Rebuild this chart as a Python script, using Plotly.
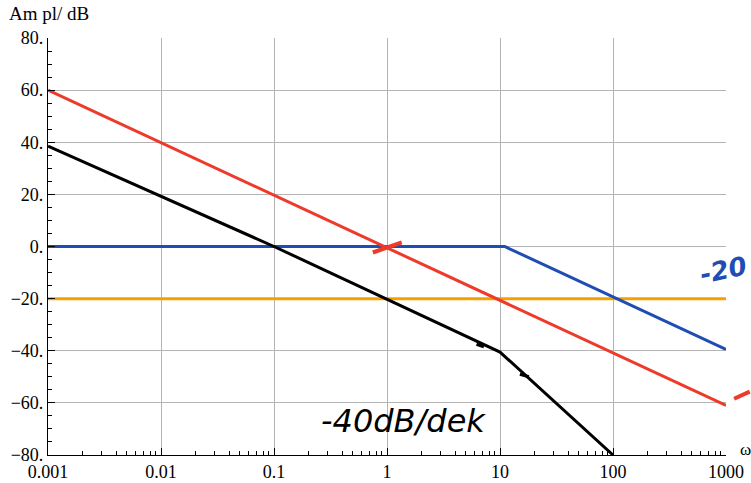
import plotly.graph_objects as go

# Data
red_x = [0.001, 1000]
red_y = [60, -61]
blue_x = [0.001, 11, 1000]
blue_y = [0, 0, -39.5]
orange_x = [0.001, 1000]
orange_y = [-20, -20]
black_x = [0.001, 0.1, 10, 100]
black_y = [38.5, 0, -40.5, -80]

x_ticks = [0.001, 0.01, 0.1, 1, 10, 100, 1000]
x_labels = ["0.001", "0.01", "0.1", "1", "10", "100", "1000"]
y_ticks = [-80, -60, -40, -20, 0, 20, 40, 60, 80]
y_labels = ["\u221280.", "\u221260.", "\u221240.", "\u221220.", "0.", "20.", "40.", "60.", "80."]

font = "Liberation Serif, Times New Roman, DejaVu Serif, serif"

fig = go.Figure()
fig.add_trace(go.Scatter(x=orange_x, y=orange_y, mode="lines", line=dict(color="#f5a000", width=3)))
fig.add_trace(go.Scatter(x=blue_x, y=blue_y, mode="lines", line=dict(color="#1f4db3", width=3)))
fig.add_trace(go.Scatter(x=red_x, y=red_y, mode="lines", line=dict(color="#ee3a2a", width=3)))
fig.add_trace(go.Scatter(x=black_x, y=black_y, mode="lines", line=dict(color="#000000", width=3)))

minor_x = [m * 10 ** e for e in range(-3, 3) for m in range(2, 10)]
minor_y = [v for v in range(-80, 81, 5) if v % 20 != 0]

fig.update_xaxes(
    type="log", range=[-3, 3], showline=True, linecolor="black", linewidth=1.2,
    tickmode="array", tickvals=x_ticks, ticktext=x_labels, automargin=False,
    ticks="inside", ticklen=7, tickcolor="black",
    showgrid=True, gridcolor="#b4b4b4", gridwidth=1.2, zeroline=False,
    tickfont=dict(family=font, size=18, color="black"),
    minor=dict(tickmode="array", tickvals=minor_x, ticks="inside", ticklen=4, tickcolor="black", showgrid=False),
)
fig.update_yaxes(
    range=[-80, 80], showline=True, linecolor="black", linewidth=1.2,
    tickmode="array", tickvals=y_ticks, ticktext=y_labels, automargin=False,
    ticks="inside", ticklen=7, tickcolor="black",
    showgrid=True, gridcolor="#b4b4b4", gridwidth=1.2, zeroline=False,
    tickfont=dict(family=font, size=18, color="black"),
    minor=dict(tickmode="array", tickvals=minor_y, ticks="inside", ticklen=4, tickcolor="black", showgrid=False),
)

# handwritten marks
fig.add_shape(type="line", xref="x", yref="y", x0=0.75, y0=-2.3, x1=1.35, y1=1.6,
              line=dict(color="#ee3a2a", width=4))
fig.add_shape(type="line", xref="paper", yref="paper", x0=1.012, y0=0.135, x1=1.035, y1=0.152,
              line=dict(color="#ee3a2a", width=4))
fig.add_shape(type="line", xref="x", yref="y", x0=6.2, y0=-37.5, x1=7.2, y1=-38.5,
              line=dict(color="black", width=3))
fig.add_shape(type="line", xref="x", yref="y", x0=15, y0=-49, x1=18, y1=-50,
              line=dict(color="black", width=3))

fig.update_layout(
    width=751, height=483,
    margin=dict(l=48, r=25, t=38, b=28),
    paper_bgcolor="white", plot_bgcolor="white",
    showlegend=False,
    annotations=[
        dict(text="Am pl/ dB", xref="paper", yref="paper", x=-0.061, y=1.0, yshift=12,
             xanchor="left", yanchor="bottom", showarrow=False,
             font=dict(family=font, size=19, color="black")),
        dict(text="\u03c9", xref="paper", yref="paper", x=1.0, y=0, xshift=12, yshift=17,
             xanchor="left", yanchor="top", showarrow=False,
             font=dict(family=font, size=17, color="black")),
        dict(text="<i>-40dB/dek</i>", xref="paper", yref="paper", x=0.40, y=0.03,
             xanchor="left", yanchor="bottom", showarrow=False,
             font=dict(family="DejaVu Sans", size=32, color="black")),
        dict(text="<i><b>-20</b></i>", xref="paper", yref="paper", x=0.955, y=0.39,
             xanchor="left", yanchor="bottom", showarrow=False, textangle=-12,
             font=dict(family="DejaVu Sans", size=26, color="#1f4db3")),
    ],
)

fig.write_html("out.html", config={"displayModeBar": False},
               post_script="document.body.style.margin='0';")
